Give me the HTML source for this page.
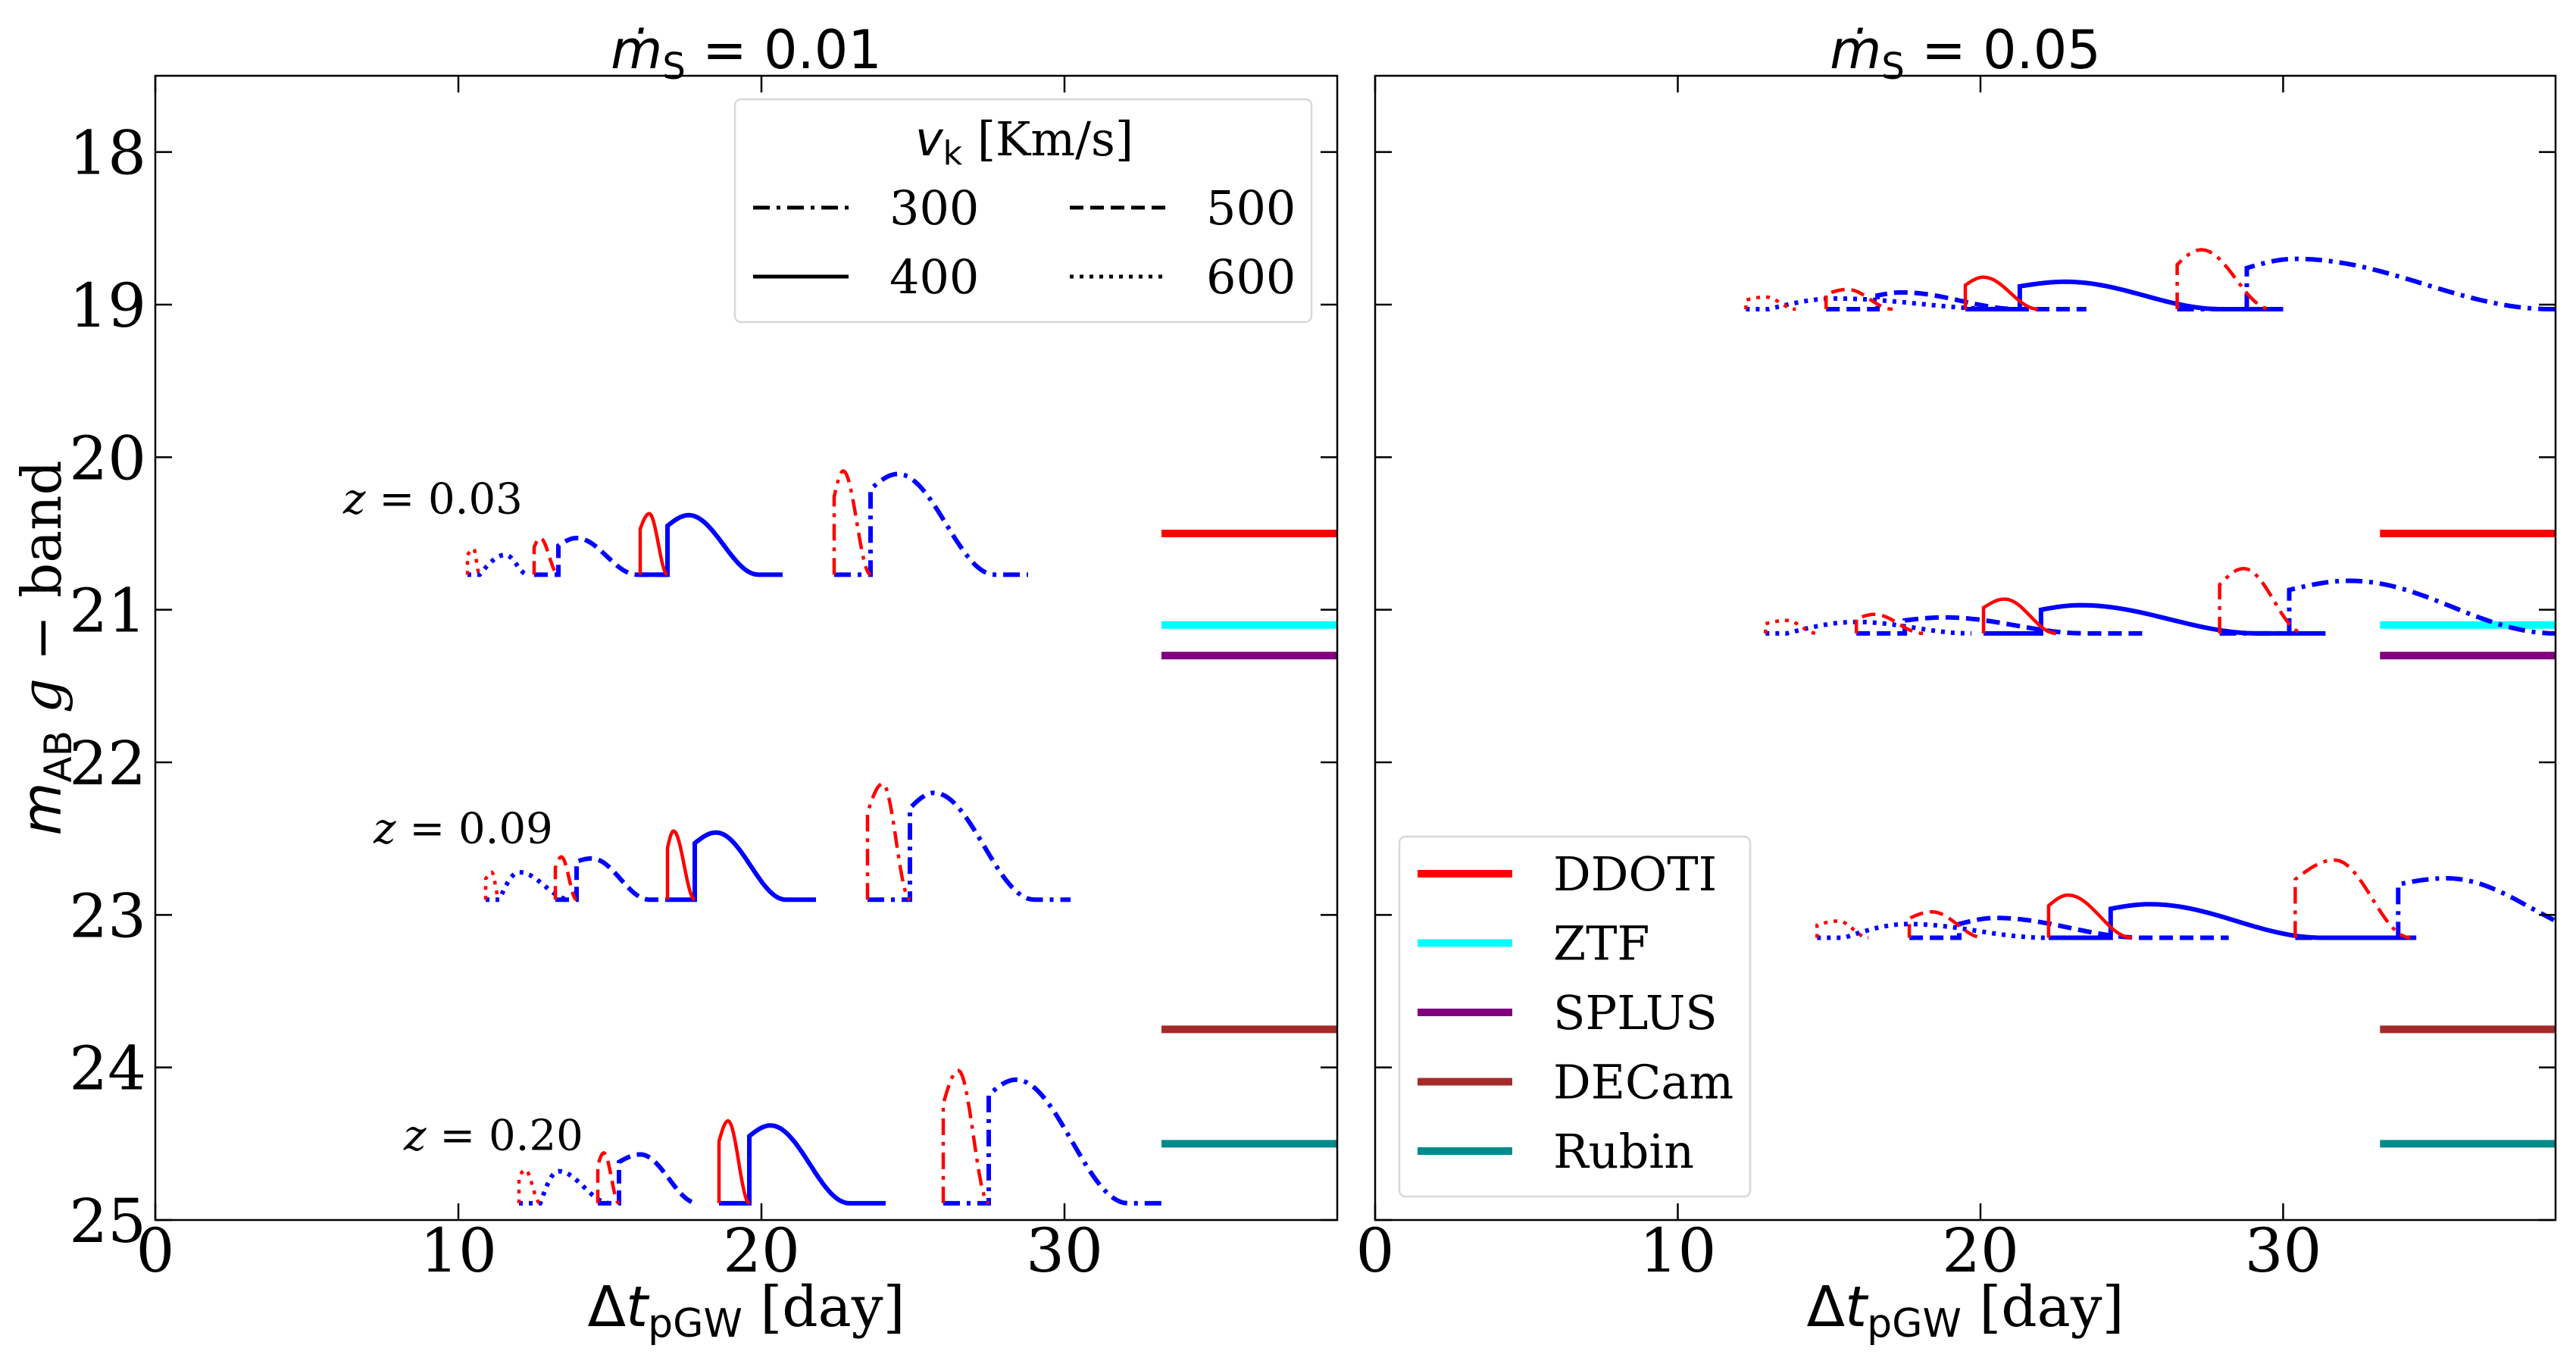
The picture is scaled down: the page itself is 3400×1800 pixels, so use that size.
<!DOCTYPE html>
<html><head><meta charset="utf-8">
<style>
html,body{margin:0;padding:0;background:#fff;}
svg{display:block;}
text{font-family:"DejaVu Serif","Liberation Serif",serif;fill:#000;}
.m{font-family:"DejaVu Sans","Liberation Sans",sans-serif;}
</style></head>
<body>
<svg id="chart" xmlns="http://www.w3.org/2000/svg" width="3400" height="1800" viewBox="0 0 3400 1800">
<rect width="3400" height="1800" fill="#fff"/>
<g id="layer"></g>
</svg>
<script>
// ---------- data ----------
const xTicks = [0, 10, 20, 30];
const yTicks = [18, 19, 20, 21, 22, 23, 24, 25];
const xDomain = [0, 39];
const yDomain = [17.5, 25];
const panelTitles = ["0.01", "0.05"];
const velocities = [300, 400, 500, 600];
const instruments = ["DDOTI", "ZTF", "SPLUS", "DECam", "Rubin"];
const instrumentMags = [20.5, 21.1, 21.3, 23.75, 24.5];
const instrumentColors = ["#ff0000", "#00ffff", "#800080", "#a52a2a", "#008b8b"];
const instrumentStart = 33.2;
const zLabels = ["0.03", "0.09", "0.20"];
const zLabelPos = [[6.2, 20.27], [7.2, 22.43], [8.2, 24.44]];
// curve params: [v, tR, tRp, mRp, tRe, tJ, mJ, tBp, mBp, tBe, tEnd]
const leftBase = [20.77, 22.90, 24.89];
const leftCurves = [
 [[600,10.3,10.5,20.60,10.7,10.7,20.77,11.55,20.64,12.3,12.3],
  [500,12.5,12.7,20.53,13.3,13.3,20.58,13.9,20.53,15.9,16.9],
  [400,16.0,16.3,20.37,16.9,16.9,20.45,17.6,20.38,19.9,20.7],
  [300,22.4,22.7,20.09,23.6,23.6,20.21,24.5,20.11,27.7,28.8]],
 [[600,10.9,11.1,22.72,11.35,11.35,22.90,12.0,22.72,13.7,13.7],
  [500,13.2,13.4,22.62,13.9,13.9,22.65,14.4,22.63,16.3,16.9],
  [400,16.9,17.1,22.45,17.8,17.8,22.53,18.5,22.46,20.8,21.8],
  [300,23.5,24.0,22.14,24.9,24.9,22.30,25.7,22.20,29.0,30.2]],
 [[600,12.0,12.2,24.67,12.7,12.7,24.89,13.3,24.68,15.0,15.0],
  [500,14.6,14.8,24.56,15.3,15.3,24.62,16.0,24.57,17.9,17.9],
  [400,18.6,18.9,24.35,19.6,19.6,24.45,20.3,24.38,22.9,24.1],
  [300,26.0,26.5,24.02,27.5,27.5,24.18,28.4,24.08,32.1,33.3]]
];
const rightBase = [19.03, 21.155, 23.15];
const rightCurves = [
 [[600,12.25,12.9,18.95,13.9,13.0,19.03,15.2,18.96,20.8,20.8],
  [500,14.9,15.6,18.90,17.1,16.6,18.94,17.4,18.92,21.3,23.5],
  [400,19.5,20.1,18.82,21.9,21.3,18.88,22.8,18.85,28.0,30.0],
  [300,26.5,27.3,18.64,29.6,28.8,18.76,30.4,18.70,38.9,39.0]],
 [[600,12.9,13.6,21.07,14.6,13.6,21.155,15.9,21.08,19.7,19.7],
  [500,15.9,16.5,21.03,18.1,17.5,21.07,18.8,21.05,23.5,25.5],
  [400,20.1,20.8,20.93,22.5,22.0,21.00,23.3,20.97,29.2,31.4],
  [300,27.9,28.7,20.73,30.7,30.2,20.87,32.2,20.81,39.0,39.0]],
 [[600,14.6,15.3,23.04,16.3,15.5,23.15,17.6,23.06,22.2,22.2],
  [500,17.65,18.4,22.98,20.1,19.3,23.06,20.5,23.02,25.4,28.2],
  [400,22.25,22.9,22.87,25.0,24.3,22.96,25.6,22.93,31.3,34.4],
  [300,30.4,31.7,22.64,34.2,33.8,22.80,35.4,22.76,41.0,41.0]]
];
// ---------- layout ----------
const NS = "http://www.w3.org/2000/svg";
const layer = document.getElementById("layer");
const panels = [{x0:205,x1:1765},{x0:1815,x1:3373}];
const Y0 = 100, Y1 = 1610;
const dash = {300:"22,9,5,9", 400:"", 500:"18,9", 600:"5,8"};
function el(tag, attrs, parent){
  const e = document.createElementNS(NS, tag);
  for (const k in attrs) e.setAttribute(k, attrs[k]);
  (parent||layer).appendChild(e); return e;
}
function sx(p, t){ return p.x0 + (t - xDomain[0])/(xDomain[1]-xDomain[0])*(p.x1-p.x0); }
function sy(m){ return Y0 + (m - yDomain[0])/(yDomain[1]-yDomain[0])*(Y1-Y0); }

function curvePaths(p, base, c){
  const [v,tR,tRp,mRp,tRe,tJ,mJ,tBp,mBp,tBe,tEnd] = c;
  const lim = xDomain[1];
  let r = [[tR,base],[tR, base-0.75*(base-mRp)]];
  const mRv = base-0.75*(base-mRp);
  for(let i=1;i<=10;i++){const f=i/10; r.push([tR+(tRp-tR)*f, mRv+(mRp-mRv)*Math.sin(f*Math.PI/2)]);}
  for(let i=1;i<=16;i++){const f=i/16; r.push([tRp+(tRe-tRp)*f, mRp+(base-mRp)*(1-Math.cos(f*Math.PI))/2]);}
  let b = [[tR,base],[tJ,base],[tJ,mJ]];
  for(let i=1;i<=10;i++){const f=i/10; b.push([tJ+(tBp-tJ)*f, mJ+(mBp-mJ)*Math.sin(f*Math.PI/2)]);}
  for(let i=1;i<=30;i++){const f=i/30; b.push([tBp+(tBe-tBp)*f, mBp+(base-mBp)*(1-Math.cos(f*Math.PI))/2]);}
  if(tEnd>tBe) b.push([tEnd,base]);
  const toD = pts => pts.filter(q=>q[0]<=lim+0.001).map((q,i)=>(i?"L":"M")+sx(p,q[0]).toFixed(1)+","+sy(q[1]).toFixed(1)).join(" ");
  return [toD(r), toD(b), v];
}

panels.forEach((p, pi)=>{
  const g = el("g", {"clip-path":"url(#clip"+pi+")"});
  
  
  const cp = el("clipPath", {id:"clip"+pi});
  el("rect", {x:p.x0, y:Y0, width:p.x1-p.x0, height:Y1-Y0}, cp);
  instruments.forEach((n,i)=>{
    const l = el("line", {x1:sx(p,instrumentStart), x2:p.x1, y1:sy(instrumentMags[i]), y2:sy(instrumentMags[i]), stroke:instrumentColors[i], "stroke-width":10}, g);
    
    
  });
  const bases = pi===0 ? leftBase : rightBase;
  const curves = pi===0 ? leftCurves : rightCurves;
  curves.forEach((grp, gi)=>{
    grp.forEach(c=>{
      const [rd, bd, v] = curvePaths(p, bases[gi], c);
      const bp = el("path", {d:bd, fill:"none", stroke:"#0000ff", "stroke-width":6, "stroke-dasharray":dash[v]}, g);
      
      
      const rp = el("path", {d:rd, fill:"none", stroke:"#ff0000", "stroke-width":4.5, "stroke-dasharray":dash[v]}, g);
      
      
    });
  });
  const fr = el("rect", {x:p.x0, y:Y0, width:p.x1-p.x0, height:Y1-Y0, fill:"none", stroke:"#000", "stroke-width":2.5});
  
  
  xTicks.forEach(t=>{
    const x = sx(p,t);
    el("line",{x1:x,x2:x,y1:Y1,y2:Y1-22,stroke:"#000","stroke-width":2.5});
    el("line",{x1:x,x2:x,y1:Y0,y2:Y0+22,stroke:"#000","stroke-width":2.5});
    const tx = el("text",{x:x,y:1678,"font-size":80,"text-anchor":"middle"});
    tx.textContent = t;
    
    
  });
  yTicks.forEach(t=>{
    const y = sy(t);
    el("line",{x1:p.x0,x2:p.x0+22,y1:y,y2:y,stroke:"#000","stroke-width":2.5});
    el("line",{x1:p.x1,x2:p.x1-22,y1:y,y2:y,stroke:"#000","stroke-width":2.5});
    if(pi===0){
      const ty = el("text",{x:193,y:y+29,"font-size":80,"text-anchor":"end"});
      ty.textContent = t;
      
      
    }
  });
  const tt = el("text",{x:(p.x0+p.x1)/2,y:90,"font-size":70,"text-anchor":"middle","class":"m"});
  tt.innerHTML = '<tspan font-style="italic">ṁ</tspan><tspan font-size="48" dy="14">S</tspan><tspan dy="-14"> = '+panelTitles[pi]+'</tspan>';
  
  
  const xl = el("text",{x:(p.x0+p.x1)/2,y:1750,"font-size":74,"text-anchor":"middle"});
  xl.innerHTML = '<tspan class="m">Δ</tspan><tspan class="m" font-style="italic">t</tspan><tspan class="m" font-size="52" dy="14">pGW</tspan><tspan dy="-14"> [day]</tspan>';
  
  
});

zLabels.forEach((z,i)=>{
  const t = el("text",{x:sx(panels[0],zLabelPos[i][0]),y:sy(zLabelPos[i][1])+20,"font-size":56});
  t.innerHTML = '<tspan font-style="italic">z</tspan> =  '+z;
  
  
});

const yl = el("text",{x:0,y:0,"font-size":72,"text-anchor":"middle",transform:"translate(80,855) rotate(-90)"});
yl.innerHTML = '<tspan class="m" font-style="italic">m</tspan><tspan class="m" font-size="50" dy="14">AB</tspan><tspan dy="-14"> </tspan><tspan font-style="italic">g</tspan> − band';



const lg1 = el("g",{});


el("rect",{x:970,y:131,width:761,height:294,rx:8,fill:"#fff","fill-opacity":0.8,stroke:"#d8d8d8","stroke-width":2.5},lg1);
const lt = el("text",{x:1352,y:205,"font-size":62,"text-anchor":"middle"},lg1);
lt.innerHTML = '<tspan class="m" font-style="italic">v</tspan><tspan class="m" font-size="44" dy="12">k</tspan><tspan dy="-12"> [Km/s]</tspan>';
const legPos = {300:[994,274],400:[994,365],500:[1412,274],600:[1412,365]};
velocities.forEach(v=>{
  const [x,y] = legPos[v];
  const h = el("line",{x1:x,x2:x+126,y1:y,y2:y,stroke:"#000","stroke-width":5,"stroke-dasharray":dash[v]},lg1);
  
  
  const t = el("text",{x:x+180,y:y+22,"font-size":62},lg1);
  t.textContent = v;
  
  
});

const lg2 = el("g",{});


el("rect",{x:1847,y:1104,width:463,height:475,rx:8,fill:"#fff","fill-opacity":0.8,stroke:"#d8d8d8","stroke-width":2.5},lg2);
instruments.forEach((n,i)=>{
  const y = 1153 + i*91.5;
  const h = el("line",{x1:1871,x2:1996,y1:y,y2:y,stroke:instrumentColors[i],"stroke-width":10},lg2);
  
  
  const t = el("text",{x:2050,y:y+22,"font-size":62},lg2);
  t.textContent = n;
  
  
});
</script>
</body></html>
